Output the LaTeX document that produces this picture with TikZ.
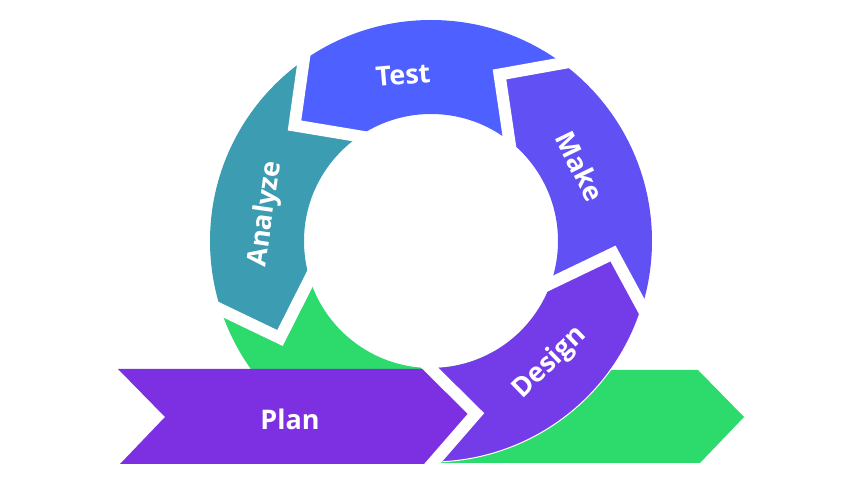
\documentclass[tikz,border=0pt]{standalone}
\usepackage{fontspec}
\setmainfont{Open Sans}
\usepackage{tikz}
\usetikzlibrary{positioning}

\definecolor{analyzec}{HTML}{3B9CB2}
\definecolor{testc}{HTML}{4E60FF}
\definecolor{makec}{HTML}{6150F3}
\definecolor{designc}{HTML}{733CE8}
\definecolor{planc}{HTML}{7D30E2}
\definecolor{greenc}{HTML}{2DDA6C}

% one phase of the ring, clipped by the given polygon
\newcommand{\ringpart}[2]{%
  \begin{scope}
    \clip #2;
    \fill[#1,even odd rule] (c) circle[radius=\rOut] (c) circle[radius=\rIn];
  \end{scope}}

\begin{document}
\begin{tikzpicture}[x=1pt,y=-1pt,
  phasetext/.style={text=white,font=\bfseries\fontsize{27}{30}\selectfont},
  gapline/.style={draw=white,line width=12,line join=miter}]
  \useasboundingbox (0,0) rectangle (863,486);

  % Constants
  \def\rOut{221}
  \def\rIn{127}
  \coordinate (c) at (431,241);

  % Boundaries (outer end / tip / inner end)
  \coordinate (b1o) at (590.5,58.2);  \coordinate (b1t) at (499.5,74.5);  \coordinate (b1i) at (513.4,168.7);
  \coordinate (b2o) at (307.7,31.8);  \coordinate (b2t) at (294.5,125.5); \coordinate (b2i) at (382.2,140.1);
  \coordinate (b3o) at (193.4,296.5); \coordinate (b3t) at (280,338);     \coordinate (b3i) at (320.8,257.2);
  \coordinate (b4o) at (656.3,333.4); \coordinate (b4t) at (613,253.5);   \coordinate (b4i) at (528,294.3);
  \coordinate (b5o) at (419.3,357.4); \coordinate (b5t) at (476,413.5);   \coordinate (b5i) at (422.7,474.8);

  % Green: ring part and outgoing arrow
  \ringpart{greenc}{(b3o) -- (b3t) -- (b3i) -- (c) -- (581,501) -- (150,501) -- (150,296.5) -- cycle}
  \fill[greenc] (431,370) -- (698,370) -- (744,417) -- (700,463) -- (431,463) -- cycle;

  % Ring phases
  \ringpart{analyzec}{(b2i) -- (b2t) -- (b2o) -- (150,20) -- (150,296.5) -- (b3o) -- (b3t) -- (b3i) -- (c) -- cycle}
  \ringpart{testc}{(b2i) -- (b2t) -- (b2o) -- (307.7,0) -- (590.5,0) -- (b1o) -- (b1t) -- (b1i) -- (c) -- cycle}
  \ringpart{makec}{(b1i) -- (b1t) -- (b1o) -- (700,58) -- (700,333.4) -- (b4o) -- (b4t) -- (b4i) -- (c) -- cycle}
  \ringpart{designc}{(b5o) -- (b5t) -- (b5i) -- (700,480) -- (700,333.4) -- (b4o) -- (b4t) -- (b4i) -- (c) -- cycle}
  \draw[white,line width=1] (c) ++(87:\rOut) arc[start angle=87,end angle=18,radius=\rOut];

  % Plan arrow
  \fill[planc] (118,369) -- (431,369) -- (b5t) -- (432,464) -- (120,464) -- (165,417) -- cycle;

  % White gaps
  \foreach \b in {1,...,5}
    \draw[gapline] (b\b o) -- (b\b t) -- (b\b i);

  % Labels
  \node[phasetext,rotate=5] (test) at (403,75) {Test};
  \node[phasetext,rotate=-64] (make) at (580,166) {Make};
  \node[phasetext,rotate=44] (design) at (550,363) {Design};
  \node[phasetext,rotate=82] (analyze) at (266,214) {Analyze};
  \node[phasetext] (plan) at (290,419) {Plan};
\end{tikzpicture}
\end{document}
